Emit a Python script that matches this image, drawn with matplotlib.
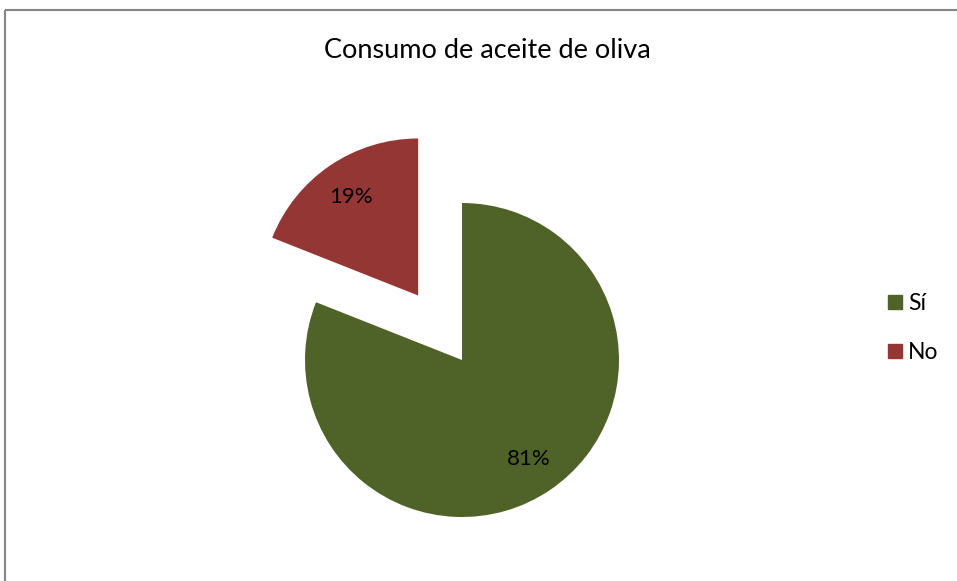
import matplotlib.pyplot as plt
from matplotlib.lines import Line2D

# data
categories = ["Sí", "No"]
shares = [81, 19]
colors = ["#4F6228", "#943634"]

W, H = 957, 581
plt.rcParams["font.family"] = ["Lato", "DejaVu Sans"]

fig = plt.figure(figsize=(W / 100, H / 100), dpi=100)
ax = fig.add_axes([0, 0, 1, 1])

# pie center / radius in pixel units (y measured from the bottom)
cx, cy, r = 462, H - 360, 157
wedges, texts, autotexts = ax.pie(
    shares, colors=colors, startangle=90, counterclock=False,
    explode=[0, 78], center=(cx, cy), radius=r,
    autopct="%d%%", pctdistance=0.76,
    textprops={"fontsize": 16, "color": "black"},
)
ax.set_xlim(0, W)
ax.set_ylim(0, H)
ax.set_aspect("equal")
ax.axis("off")

# chart frame (top and left edges are visible)
ax.plot([4.5, W], [H - 9.5, H - 9.5], color="#868686", lw=1.5, solid_capstyle="butt")
ax.plot([4.5, 4.5], [0, H - 9.5], color="#868686", lw=1.5, solid_capstyle="butt")

fig.text(487 / W, 1 - 50 / H, "Consumo de aceite de oliva", ha="center", va="center", fontsize=19.5)

handles = [Line2D([], [], marker="s", linestyle="none", markersize=10.5,
                  markerfacecolor=c, markeredgecolor=c) for c in colors]
fig.legend(handles, categories, loc="center left", bbox_to_anchor=(884 / W, 1 - 328 / H),
           frameon=False, fontsize=16.5, labelspacing=1.2, handletextpad=0.05,
           handlelength=1.0, borderaxespad=0, borderpad=0)

fig.savefig("out.png", dpi=100)
